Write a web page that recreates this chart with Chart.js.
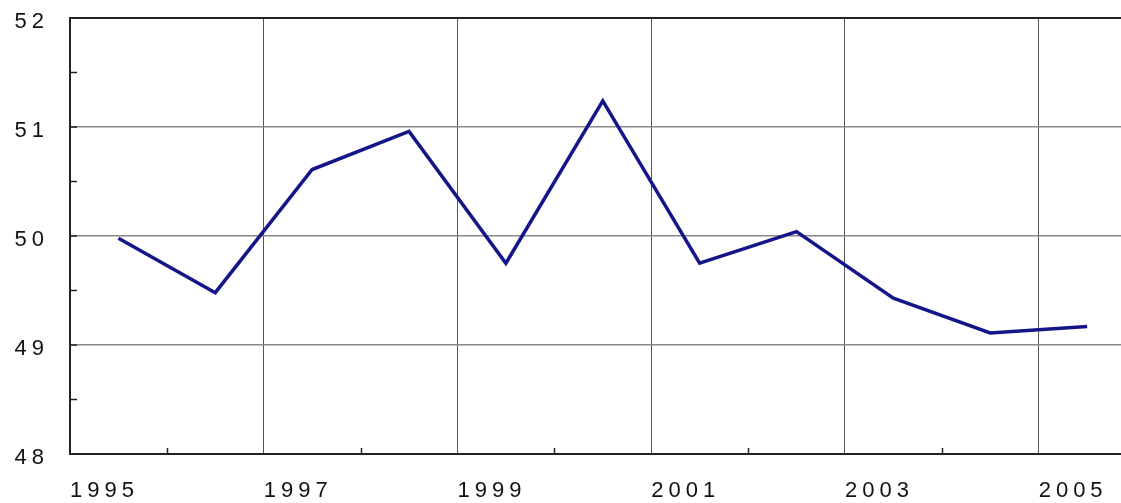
<!DOCTYPE html>
<html>
<head>
<meta charset="utf-8">
<script src="https://cdn.jsdelivr.net/npm/chart.js@4/dist/chart.umd.min.js"></script>
<style>
html,body{margin:0;padding:0;background:#fff;overflow:hidden}
#wrap{width:1121px;height:503px;position:relative}
</style>
</head>
<body>
<div id="wrap"><canvas id="c" width="1121" height="503"></canvas></div>
<script>
// ---- data ----
const years = [1995, 1996, 1997, 1998, 1999, 2000, 2001, 2002, 2003, 2004, 2005];
const values = [49.98, 49.48, 50.61, 50.96, 49.75, 51.24, 49.75, 50.04, 49.43, 49.11, 49.17];
const labeledYears = [1995, 1997, 1999, 2001, 2003, 2005];
const yTickValues = [48, 49, 50, 51, 52];
const yMinorStep = 0.5;

const FONT = { family: '"Liberation Sans", Arial, sans-serif', size: 22 };

const innerTicks = {
  id: 'innerTicks',
  beforeDraw(chart) {
    chart.ctx.letterSpacing = '5px';
  },
  afterDraw(chart) {
    const { ctx, chartArea: a, scales: { x, y } } = chart;
    ctx.save();
    ctx.strokeStyle = '#222';
    ctx.lineWidth = 1.5;
    ctx.beginPath();
    years.forEach(yr => {
      if (labeledYears.includes(yr)) return;
      const px = Math.round(x.getPixelForValue(yr)) + 0.5;
      ctx.moveTo(px, a.bottom);
      ctx.lineTo(px, a.bottom - 6);
    });
    for (let v = y.min; v <= y.max + 1e-9; v += yMinorStep) {
      const py = y.getPixelForValue(v);
      ctx.moveTo(a.left, py);
      ctx.lineTo(a.left + 7, py);
    }
    ctx.stroke();
    ctx.restore();
  }
};

new Chart(document.getElementById('c'), {
  type: 'line',
  data: {
    datasets: [{
      data: years.map((yr, i) => ({ x: yr + 0.5, y: values[i] })),
      borderColor: '#15158a',
      borderWidth: 3.5,
      pointRadius: 0,
      tension: 0,
      fill: false
    }]
  },
  options: {
    responsive: false,
    animation: false,
    devicePixelRatio: 1,
    layout: { padding: { top: 18, right: 0, left: 0, bottom: 0 } },
    plugins: { legend: { display: false }, tooltip: { enabled: false }, title: { display: false } },
    scales: {
      x: {
        type: 'linear',
        min: years[0],
        max: 2005.85,
        afterFit(s) { s.height = 49; s.paddingLeft = 0; s.paddingRight = 0; },
        afterBuildTicks(s) { s.ticks = years.map(v => ({ value: v })); },
        border: { color: '#222', width: 2 },
        grid: {
          drawTicks: false,
          color: c => labeledYears.includes(c.tick && c.tick.value) ? '#555' : 'rgba(0,0,0,0)',
          lineWidth: 1
        },
        ticks: {
          autoSkip: false,
          maxRotation: 0,
          align: 'start',
          padding: 24,
          color: '#111',
          font: FONT,
          callback: v => labeledYears.includes(v) ? String(v) : ''
        }
      },
      y: {
        min: yTickValues[0],
        max: yTickValues[yTickValues.length - 1],
        afterFit(s) { s.width = 70; s.paddingTop = 0; s.paddingBottom = 0; },
        afterBuildTicks(s) { s.ticks = yTickValues.map(v => ({ value: v })); },
        border: { color: '#222', width: 2 },
        grid: {
          drawTicks: false,
          color: c => (c.tick && c.tick.value === 52) ? '#222' : '#888',
          lineWidth: c => (c.tick && c.tick.value === 52) ? 2 : 1.5
        },
        ticks: {
          padding: 21,
          labelOffset: 4,
          color: '#111',
          font: FONT,
          callback: v => String(v)
        }
      }
    }
  },
  plugins: [innerTicks]
});
</script>
</body>
</html>
